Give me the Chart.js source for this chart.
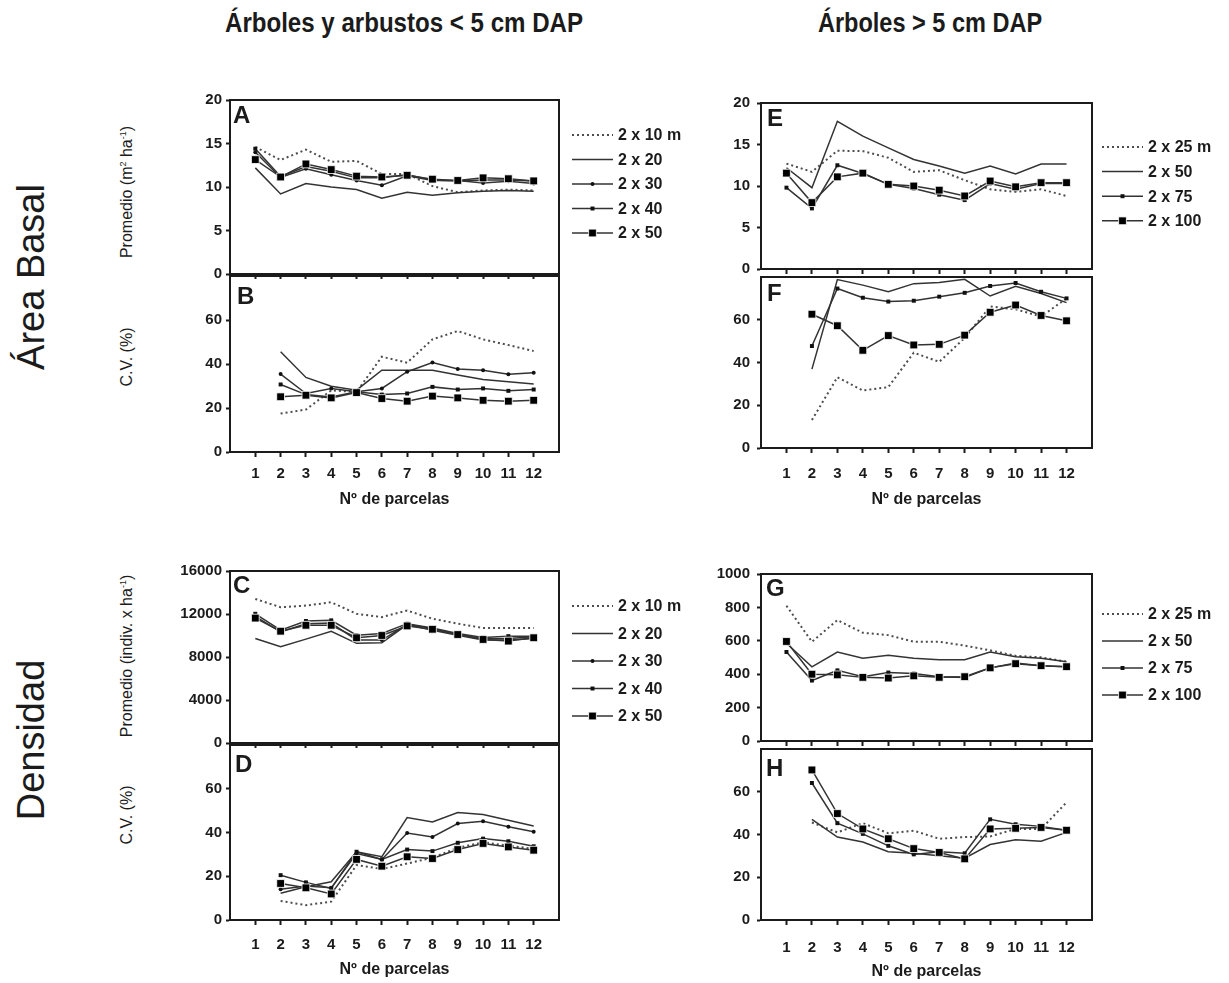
<!DOCTYPE html>
<html lang="es">
<head>
<meta charset="utf-8">
<title>Área basal y densidad según tamaño de parcela</title>
<script src="https://cdn.jsdelivr.net/npm/chart.js@4.4.1/dist/chart.umd.min.js"></script>
<style>
  html, body { margin: 0; padding: 0; background: #fff; }
  body { width: 1229px; height: 983px; position: relative; overflow: hidden;
         font-family: "Liberation Sans", Arial, Helvetica, sans-serif; color: #1b1b1b; }
  .box { position: absolute; }
  .txt { position: absolute; white-space: nowrap; }
  .col-title { font-size: 28px; font-weight: bold; line-height: 28px;
               transform: translate(-50%, 0) scaleX(0.84); }
  .col-title.wide { transform: translate(-50%, 0) scaleX(0.86); }
  .row-title { font-size: 38px; line-height: 38px;
               transform: translate(-50%, -50%) rotate(-90deg); }
  .ax-title { font-size: 16px; line-height: 18px;
              transform: translate(-50%, -50%) rotate(-90deg); }
  .ax-title sup { font-size: 9px; vertical-align: 6px; line-height: 0; }
</style>
</head>
<body>

<div class="txt col-title wide" style="left:404px; top:9px;">Árboles y arbustos &lt; 5 cm DAP</div>
<div class="txt col-title" style="left:930px; top:9px;">Árboles &gt; 5 cm DAP</div>

<div class="txt row-title" style="left:31px; top:277px;">Área Basal</div>
<div class="txt row-title" style="left:31px; top:740px;">Densidad</div>

<div class="txt ax-title" style="left:127px; top:192px;">Promedio (m<sup>2</sup> ha<sup>-1</sup>)</div>
<div class="txt ax-title" style="left:127px; top:357px;">C.V. (%)</div>
<div class="txt ax-title" style="left:127px; top:656px;">Promedio (indiv. x ha<sup>-1</sup>)</div>
<div class="txt ax-title" style="left:127px; top:815px;">C.V. (%)</div>

<script>
// ---------- categories, ticks and series names ----------
const parcelas = [1, 2, 3, 4, 5, 6, 7, 8, 9, 10, 11, 12];

const ticksBasal = [0, 5, 10, 15, 20];
const ticksCV = [0, 20, 40, 60];
const ticksDensPequenos = [0, 4000, 8000, 12000, 16000];
const ticksDensGrandes = [0, 200, 400, 600, 800, 1000];

const seriesPequenos = ['2 x 10 m', '2 x 20', '2 x 30', '2 x 40', '2 x 50'];
const seriesGrandes = ['2 x 25 m', '2 x 50', '2 x 75', '2 x 100'];

// ---------- A: área basal promedio, árboles y arbustos < 5 cm DAP (m2/ha) ----------
const a10 = [14.6, 13.1, 14.3, 12.9, 13.0, 11.5, 11.5, 10.1, 9.4, 9.6, 9.7, 9.6];
const a20 = [12.2, 9.2, 10.4, 10.0, 9.7, 8.7, 9.4, 9.05, 9.35, 9.5, 9.6, 9.5];
const a30 = [14.0, 11.1, 12.1, 11.4, 10.75, 10.2, 11.3, 10.75, 10.75, 10.45, 10.65, 10.4];
const a40 = [14.4, 11.2, 12.35, 11.8, 11.05, 11.05, 11.4, 10.8, 10.7, 10.8, 10.8, 10.7];
const a50 = [13.15, 11.15, 12.65, 12.0, 11.25, 11.15, 11.35, 10.9, 10.75, 11.05, 10.95, 10.7];

// ---------- B: C.V. del área basal, < 5 cm DAP (%) ----------
const b10 = [null, 17.5, 19.3, 28.0, 27.3, 43.3, 40.6, 51.2, 55.0, 51.2, 48.6, 45.9];
const b20 = [null, 45.6, 33.9, 29.9, 28.1, 37.2, 37.2, 37.2, 35.0, 33.0, 31.9, 30.9];
const b30 = [null, 35.4, 26.6, 28.9, 27.4, 28.9, 36.5, 40.7, 37.7, 37.2, 35.3, 36.0];
const b40 = [null, 30.7, 26.1, 25.0, 27.4, 26.1, 26.6, 29.6, 28.4, 28.9, 27.8, 28.4];
const b50 = [null, 25.1, 25.8, 24.6, 27.0, 24.3, 23.1, 25.4, 24.6, 23.5, 23.1, 23.5];

// ---------- C: densidad promedio, < 5 cm DAP (indiv./ha) ----------
const c10 = [13400, 12630, 12780, 13090, 12020, 11710, 12320, 11560, 11100, 10700, 10700, 10700];
const c20 = [9720, 8960, 9660, 10400, 9270, 9330, 11010, 10490, 10030, 9570, 9570, 9720];
const c30 = [11770, 10340, 11100, 11160, 9570, 9570, 11040, 10640, 10120, 9690, 9720, 9880];
const c40 = [12020, 10490, 11350, 11410, 10030, 10180, 11100, 10700, 10180, 9820, 9940, 9940];
const c50 = [11620, 10400, 10950, 10950, 9790, 10000, 10890, 10580, 10090, 9630, 9480, 9790];

// ---------- D: C.V. de la densidad, < 5 cm DAP (%) ----------
const d10 = [null, 8.7, 6.8, 8.4, 25.1, 23.3, 25.8, 28.5, 33.0, 35.5, 34.0, 32.5];
const d20 = [null, 12.2, 15.2, 17.5, 31.2, 28.9, 46.8, 44.8, 49.1, 48.2, 45.6, 43.0];
const d30 = [null, 14.1, 15.5, 14.7, 30.4, 27.7, 39.8, 38.0, 44.1, 45.1, 42.6, 40.3];
const d40 = [null, 20.5, 17.2, 14.4, 31.2, 27.7, 32.2, 31.5, 35.3, 37.2, 36.0, 33.7];
const d50 = [null, 16.7, 14.7, 11.9, 27.7, 24.6, 28.9, 28.1, 32.2, 35.0, 33.4, 31.9];

// ---------- E: área basal promedio, árboles > 5 cm DAP (m2/ha) ----------
const e25 = [12.7, 11.7, 14.25, 14.2, 13.4, 11.7, 11.9, 10.7, 9.6, 9.3, 9.6, 8.8];
const e50 = [12.2, 9.8, 17.8, 16.0, 14.6, 13.2, 12.4, 11.55, 12.4, 11.45, 12.65, 12.65];
const e75 = [9.8, 7.3, 12.5, 11.5, 10.2, 9.7, 8.95, 8.3, 10.3, 9.6, 10.3, 10.3];
const e100 = [11.55, 8.0, 11.1, 11.55, 10.2, 10.0, 9.5, 8.8, 10.6, 9.9, 10.4, 10.4];

// ---------- F: C.V. del área basal, > 5 cm DAP (%) ----------
const f25 = [null, 13.1, 33.1, 26.9, 28.5, 44.6, 40.3, 51.5, 66.2, 64.9, 61.5, 70.0];
const f50 = [null, 36.9, 78.8, 76.2, 73.1, 76.9, 77.4, 78.9, 71.1, 75.7, 72.3, 68.0];
const f75 = [null, 47.7, 74.6, 70.3, 68.5, 68.9, 70.8, 72.6, 75.8, 77.2, 73.1, 70.0];
const f100 = [null, 62.6, 57.2, 45.7, 52.6, 48.2, 48.5, 52.8, 63.5, 66.9, 62.0, 59.5];

// ---------- G: densidad promedio, > 5 cm DAP (indiv./ha) ----------
const g25 = [810, 594, 724, 648, 634, 594, 594, 571, 543, 510, 501, 475];
const g50 = [585, 444, 533, 495, 514, 495, 486, 486, 533, 505, 495, 475];
const g75 = [533, 362, 423, 385, 410, 404, 385, 381, 438, 467, 451, 445];
const g100 = [596, 400, 396, 381, 377, 390, 381, 385, 438, 463, 451, 445];

// ---------- H: C.V. de la densidad, > 5 cm DAP (%) ----------
const h25 = [null, 45.6, 41.0, 45.3, 40.6, 41.8, 38.0, 38.8, 39.1, 42.6, 42.6, 55.0];
const h50 = [null, 47.1, 38.8, 36.5, 31.9, 31.2, 30.1, 28.9, 35.3, 37.5, 36.9, 41.0];
const h75 = [null, 64.1, 45.3, 40.3, 34.7, 30.7, 31.9, 31.2, 47.1, 44.8, 43.8, 42.0];
const h100 = [null, 70.2, 49.8, 42.6, 38.0, 33.4, 31.6, 28.6, 42.6, 42.9, 43.3, 42.0];

// ---------- styling ----------
const FAMILY = '"Liberation Sans", Arial, Helvetica, sans-serif';
const INK = '#1b1b1b';
const LINE = '#333333';

const STYLES = {
  dotted:  { borderColor: '#4d4d4d', borderWidth: 2, borderDash: [2, 3], pointRadius: 0 },
  solid:   { borderColor: LINE, borderWidth: 1.5, pointRadius: 0 },
  dot:     { borderColor: LINE, borderWidth: 1.5, pointStyle: 'circle', pointRadius: 2,
             pointBackgroundColor: '#111', pointBorderColor: '#111', pointBorderWidth: 0 },
  smallSq: { borderColor: LINE, borderWidth: 1.5, pointStyle: 'rect', pointRadius: 2.8,
             pointBackgroundColor: '#111', pointBorderColor: '#111', pointBorderWidth: 0 },
  bigSq:   { borderColor: LINE, borderWidth: 1.5, pointStyle: 'rect', pointRadius: 5.5,
             pointBackgroundColor: '#000', pointBorderColor: '#ffffff', pointBorderWidth: 0.8 }
};
const KINDS_PEQ = ['dotted', 'solid', 'dot', 'smallSq', 'bigSq'];
const KINDS_GRA = ['dotted', 'solid', 'smallSq', 'bigSq'];

const COLS = {
  L: { l: 230, r: 559, yPad: 4, extR: 160 },
  R: { l: 761, r: 1092, yPad: 7, extR: 137 }
};

const PANELS = [
  { letter: 'A', col: 'L', t: 99,  b: 275, yMax: 20,    yTicks: ticksBasal, names: seriesPequenos, kinds: KINDS_PEQ,
    series: [a10, a20, a30, a40, a50], legend: { x: 13, y: 35, dy: 24.5 }, lp: [3, 23] },
  { letter: 'B', col: 'L', t: 275, b: 452, yMax: 80,    yTicks: ticksCV, names: seriesPequenos, kinds: KINDS_PEQ,
    series: [b10, b20, b30, b40, b50], xLabels: true, xPad: 8, titleY: 500, lp: [7, 28] },
  { letter: 'C', col: 'L', t: 570, b: 744, yMax: 16000, yTicks: ticksDensPequenos, names: seriesPequenos, kinds: KINDS_PEQ,
    series: [c10, c20, c30, c40, c50], legend: { x: 13, y: 35, dy: 27.5 }, lp: [3, 22] },
  { letter: 'D', col: 'L', t: 744, b: 920, yMax: 80,    yTicks: ticksCV, names: seriesPequenos, kinds: KINDS_PEQ,
    series: [d10, d20, d30, d40, d50], xLabels: true, xPad: 11, titleY: 970, lp: [5, 27] },
  { letter: 'E', col: 'R', t: 99,  b: 273, yMax: 20,    yTicks: ticksBasal, names: seriesGrandes, kinds: KINDS_GRA,
    series: [e25, e50, e75, e100], legend: { x: 10, y: 44, dy: 24.6 }, lp: [6, 23] },
  { letter: 'F', col: 'R', t: 273, b: 448, yMax: 80,    yTicks: ticksCV, names: seriesGrandes, kinds: KINDS_GRA,
    series: [f25, f50, f75, f100], xLabels: true, xPad: 12, titleY: 500, lp: [6, 24] },
  { letter: 'G', col: 'R', t: 570, b: 745, yMax: 1000,  yTicks: ticksDensGrandes, names: seriesGrandes, kinds: KINDS_GRA,
    series: [g25, g50, g75, g100], legend: { x: 10, y: 40, dy: 27 }, lp: [5, 22] },
  { letter: 'H', col: 'R', t: 745, b: 920, yMax: 80,    yTicks: ticksCV, names: seriesGrandes, kinds: KINDS_GRA,
    series: [h25, h50, h75, h100], xLabels: true, xPad: 14, titleY: 972, lp: [5, 27] }
];

// Frame around the plot area, the panel letter and the in-canvas legend.
const panelDeco = {
  id: 'panelDeco',
  afterDraw(chart, args, o) {
    const { ctx, chartArea: a } = chart;
    ctx.save();
    ctx.strokeStyle = INK;
    ctx.lineWidth = 2;
    ctx.setLineDash([]);
    ctx.strokeRect(a.left, a.top, a.right - a.left, a.bottom - a.top);

    ctx.fillStyle = INK;
    ctx.font = 'bold 24px ' + FAMILY;
    ctx.textAlign = 'left';
    ctx.textBaseline = 'alphabetic';
    ctx.fillText(o.letter, a.left + o.lp[0], a.top + o.lp[1]);

    if (o.legend) {
      ctx.font = 'bold 16px ' + FAMILY;
      ctx.textBaseline = 'middle';
      chart.data.datasets.forEach((ds, i) => {
        const y = a.top + o.legend.y + i * o.legend.dy;
        const x0 = a.right + o.legend.x;
        const x1 = x0 + 41;
        ctx.beginPath();
        ctx.setLineDash(ds.borderDash || []);
        ctx.lineWidth = ds.borderWidth;
        ctx.strokeStyle = ds.borderColor;
        ctx.moveTo(x0, y);
        ctx.lineTo(x1, y);
        ctx.stroke();
        ctx.setLineDash([]);
        if (ds.pointRadius > 0) {
          ctx.fillStyle = ds.pointBackgroundColor;
          ctx.strokeStyle = ds.pointBorderColor;
          ctx.lineWidth = ds.pointBorderWidth;
          Chart.helpers.drawPoint(ctx, {
            pointStyle: ds.pointStyle, radius: ds.pointRadius,
            borderWidth: ds.pointBorderWidth, rotation: 0
          }, (x0 + x1) / 2, y);
        }
        ctx.fillStyle = INK;
        ctx.fillText(ds.label, x1 + 5, y + 1);
      });
    }
    ctx.restore();
  }
};

function makePanel(p) {
  const col = COLS[p.col];
  const extL = 62, extT = 12;
  const extR = p.legend ? col.extR : 12;
  const extB = p.xLabels ? 62 : 12;
  const w = col.r - col.l, h = p.b - p.t;

  const box = document.createElement('div');
  box.className = 'box';
  box.style.left = (col.l - extL) + 'px';
  box.style.top = (p.t - extT) + 'px';
  const cv = document.createElement('canvas');
  cv.width = w + extL + extR;
  cv.height = h + extT + extB;
  cv.style.width = cv.width + 'px';
  cv.style.height = cv.height + 'px';
  box.appendChild(cv);
  document.body.appendChild(box);

  const n = p.series.length;
  const datasets = p.series.map((vals, i) => Object.assign({
    label: p.names[i],
    data: parcelas.map((x, j) => ({ x: x, y: vals[j] })),
    fill: false,
    tension: 0,
    spanGaps: false,
    order: n - 1 - i
  }, STYLES[p.kinds[i]]));

  const tickFont = { family: FAMILY, size: 15, weight: 'bold' };
  const titleBottomPad = (p.b + extB) - (p.titleY || 0) - 9.6;

  new Chart(cv, {
    type: 'line',
    data: { datasets: datasets },
    options: {
      responsive: false,
      animation: false,
      devicePixelRatio: 1,
      layout: { autoPadding: false, padding: { left: 0, top: extT, right: extR, bottom: 0 } },
      plugins: {
        legend: { display: false },
        tooltip: { enabled: false },
        panelDeco: { letter: p.letter, lp: p.lp, legend: p.legend || null }
      },
      scales: {
        x: {
          type: 'linear', min: 0, max: 13,
          afterBuildTicks: s => { s.ticks = parcelas.map(v => ({ value: v })); },
          afterFit: s => { s.height = extB; },
          grid: { drawOnChartArea: false, drawTicks: true, tickLength: 5, tickWidth: 2, tickColor: INK },
          border: { display: true, color: INK, width: 2 },
          ticks: { display: !!p.xLabels, font: tickFont, color: INK, padding: p.xPad || 0,
                   maxRotation: 0, autoSkip: false, callback: v => String(v) },
          title: { display: !!p.xLabels, text: 'Nº de parcelas', color: INK,
                   font: { family: FAMILY, size: 16, weight: 'bold' },
                   padding: { top: 0, bottom: Math.max(titleBottomPad, 0) } }
        },
        y: {
          min: 0, max: p.yMax,
          afterBuildTicks: s => { s.ticks = p.yTicks.map(v => ({ value: v })); },
          afterFit: s => { s.width = extL; },
          grid: { drawOnChartArea: false, drawTicks: true, tickLength: 4, tickWidth: 2, tickColor: INK },
          border: { display: true, color: INK, width: 2 },
          ticks: { font: tickFont, color: INK, padding: col.yPad, autoSkip: false,
                   callback: v => String(v) }
        }
      }
    },
    plugins: [panelDeco]
  });
}

PANELS.forEach(makePanel);
</script>
</body>
</html>
